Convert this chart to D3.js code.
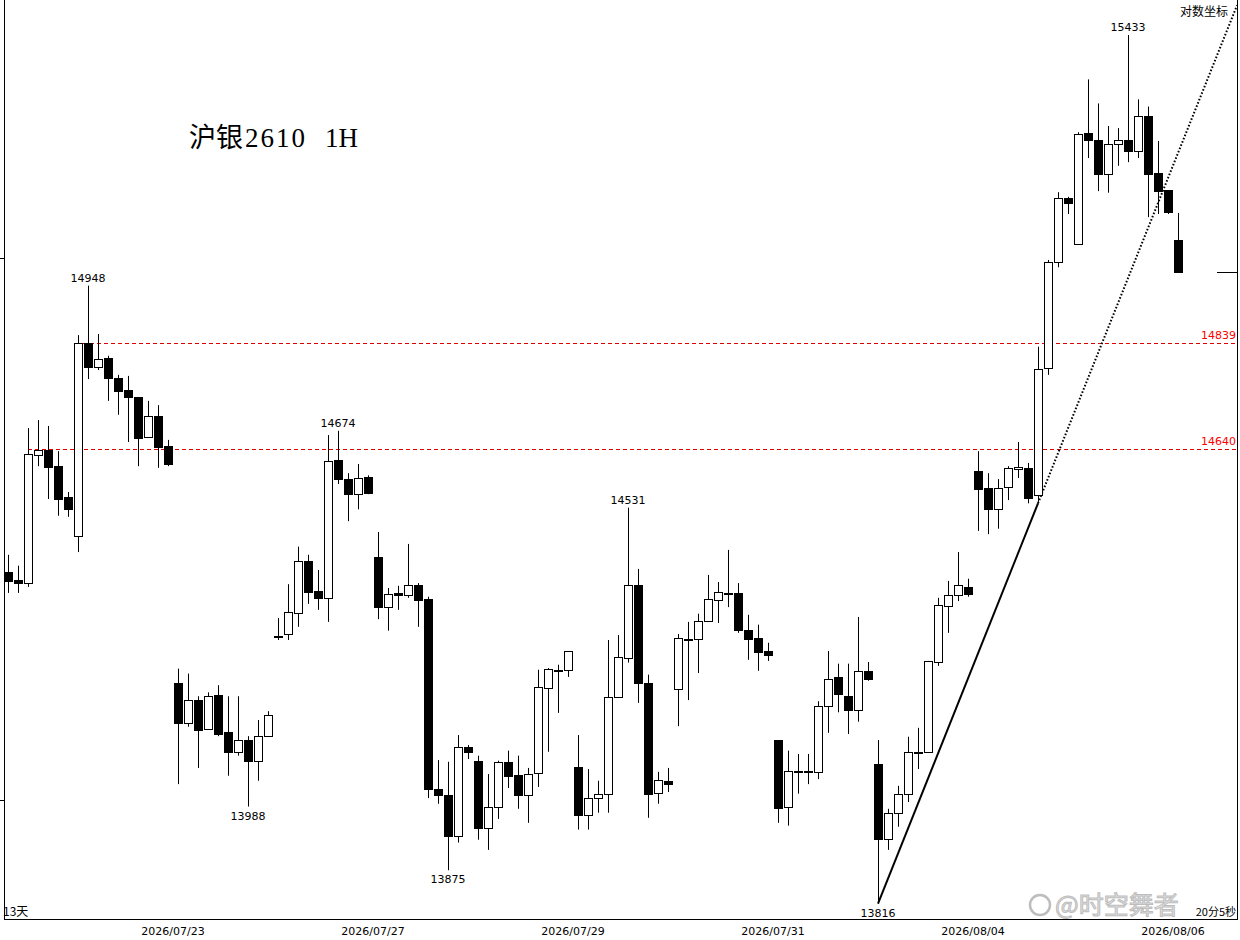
<!DOCTYPE html>
<html><head><meta charset="utf-8">
<script src="https://cdn.jsdelivr.net/npm/d3@7"></script>
<style>body{margin:0;background:#fff;} svg{display:block;}</style>
</head><body>
<svg id="c" width="1240" height="940"></svg>
<script>
// ---- data (hourly bars) ----
const opens  = [14412,14398,14392,14629,14638,14608,14551,14479,14839,14794,14811,14773,14751,14737,14663,14702,14646,
14210,14138,14179,14127,14188,14122,14086,14107,14070,14114,14296,14299,14337,14433,14378,14365,14620,14584,14556,14588,
14440,14348,14374,14370,14389,14363,14019,14009,13936,14095,14070,13950,13988,14068,14045,14009,14048,14201,14234,14234,
14059,13973,14003,14011,14185,14256,14389,14210,14012,14034,14199,14290,14290,14323,14361,14374,14374,14306,14292,14268,
14107,13988,14052,14052,14050,14168,14221,14186,14161,14232,14064,13931,13977,14011,14086,14086,14248,14350,14370,14385,
14599,14567,14528,14569,14603,14605,14554,14792,14993,15116,15028,15241,15228,15162,15220,15228,15207,15274,15164,15131,15035];
const highs  = [14444,14424,14679,14694,14683,14636,14560,14854,14948,14856,14815,14779,14777,14737,14730,14722,14657,
14236,14227,14186,14193,14206,14186,14186,14114,14143,14159,14328,14390,14459,14444,14416,14666,14674,14595,14612,14591,
14486,14383,14387,14464,14392,14367,14071,14068,14116,14098,14079,14046,14070,14088,14079,14057,14234,14237,14243,14268,
14116,14055,14034,14288,14297,14531,14418,14225,14050,14057,14299,14321,14336,14407,14394,14453,14392,14334,14316,14283,
14107,14088,14082,14082,14177,14268,14245,14245,14330,14248,14107,13984,14025,14113,14129,14250,14365,14396,14449,14400,
14636,14595,14584,14608,14653,14614,14832,14997,15127,15118,15243,15346,15299,15255,15251,15433,15307,15293,15226,15131,15087];
const lows   = [14374,14374,14385,14608,14547,14516,14514,14449,14771,14788,14730,14704,14653,14608,14663,14605,14608,
14028,14131,14057,14127,14114,14043,14079,13988,14034,14114,14288,14288,14312,14354,14343,14321,14575,14506,14528,14556,
14326,14305,14343,14365,14312,14003,13993,13875,13924,14073,13929,13911,13966,14021,13984,13959,14023,14086,14156,14221,
13947,13947,13977,13977,14185,14247,14174,13968,13993,14014,14132,14179,14228,14323,14319,14348,14301,14252,14232,14250,
13959,13954,14011,14028,14037,14120,14157,14118,14140,14214,13816,13911,13952,13996,14055,14084,14241,14301,14359,14367,
14488,14482,14492,14545,14586,14539,14539,14779,14983,15085,15028,15193,15129,15126,15178,15185,15193,15079,15085,15085,14974];
const closes = [14396,14392,14631,14638,14606,14547,14528,14839,14794,14809,14773,14749,14737,14661,14702,14644,14612,
14138,14179,14125,14186,14118,14086,14107,14070,14114,14152,14294,14339,14433,14376,14365,14618,14584,14556,14586,14558,
14348,14372,14370,14389,14361,14019,14009,13936,14095,14086,13949,13988,14068,14043,14009,14046,14203,14236,14234,14268,
13973,14003,14011,14185,14257,14389,14210,14011,14036,14028,14292,14290,14323,14363,14376,14374,14306,14290,14266,14261,
13986,14052,14052,14052,14168,14217,14190,14161,14232,14217,13931,13977,14011,14086,14086,14250,14352,14370,14389,14372,
14566,14528,14567,14605,14606,14549,14790,14993,15116,15106,15239,15228,15162,15220,15228,15207,15274,15162,15129,15089,14974];

const dateLabels = ["2026/07/23","2026/07/27","2026/07/29","2026/07/31","2026/08/04","2026/08/06"];
const dateIndex  = [17,37,57,77,97,117];           // first bar of each labelled day
const markIndex  = [8,33,62,112,24,44,87];          // annotated extremes
const markSide   = ["high","high","high","high","low","low","low"];
const levelValues = [14839,14640];
const levelStart  = [7.5,2];
const trendAnchors = [87,103];                      // trend line through these lows
const axisTicks = [14000,15000];

(function(){
// ---- layout ----
const L = 4, R = 1237, T = 0, B = 919;
const svg = d3.select("#c");
const n = opens.length;
const x = d3.scaleLinear().domain([0, n-1]).range([8, 8 + 10*(n-1)]);
const y = d3.scaleLog().domain([13789, 15502]).range([B, T]);
const bodyW = 8;
const numFont = "'DejaVu Sans', Verdana, sans-serif";
const px = v => Math.round(v) + 0.5;

// frame
svg.append("line").attr("x1", L+0.5).attr("x2", L+0.5).attr("y1", 0).attr("y2", B).attr("stroke","#000");
svg.append("line").attr("x1", R+0.5).attr("x2", R+0.5).attr("y1", 0).attr("y2", B).attr("stroke","#000");
svg.append("line").attr("x1", L).attr("x2", R+1).attr("y1", B+0.5).attr("y2", B+0.5).attr("stroke","#000");
axisTicks.forEach(t => {
  svg.append("line").attr("x1", 0).attr("x2", L).attr("y1", px(y(t))).attr("y2", px(y(t))).attr("stroke","#000");
});

// level lines
levelValues.forEach((v,k) => {
  svg.append("line").attr("x1", x(levelStart[k])).attr("x2", R)
    .attr("y1", px(y(v))).attr("y2", px(y(v)))
    .attr("stroke","#e00000").attr("stroke-width",1).attr("stroke-dasharray","4,3");
  svg.append("text").attr("x", R-1).attr("y", y(v)-4).attr("text-anchor","end")
    .attr("font-family", numFont).attr("font-size", 11).attr("fill","#ff0000").text(v);
});

// trend line
const ax = x(trendAnchors[0]), ay = y(lows[trendAnchors[0]]);
const bx = x(trendAnchors[1]), by = y(lows[trendAnchors[1]]);
const slope = (by-ay)/(bx-ax);
svg.append("line").attr("x1", ax).attr("y1", ay).attr("x2", bx).attr("y2", by)
  .attr("stroke","#000").attr("stroke-width",2);
svg.append("line").attr("x1", bx).attr("y1", by).attr("x2", R).attr("y2", by + slope*(R-bx))
  .attr("stroke","#000").attr("stroke-width",2).attr("stroke-dasharray","1.5,2");

// candles
const idx = d3.range(n);
svg.append("g").selectAll("line").data(idx).join("line")
  .attr("x1", i => Math.round(x(i))+0.5).attr("x2", i => Math.round(x(i))+0.5)
  .attr("y1", i => y(highs[i])).attr("y2", i => y(lows[i]))
  .attr("stroke","#000").attr("stroke-width",1);
svg.append("g").selectAll("rect").data(idx).join("rect")
  .attr("x", i => Math.round(x(i)) - bodyW/2 + 0.5)
  .attr("y", i => Math.round(y(Math.max(opens[i], closes[i]))) + 0.5)
  .attr("width", bodyW)
  .attr("height", i => Math.max(1, Math.round(y(Math.min(opens[i], closes[i]))) - Math.round(y(Math.max(opens[i], closes[i])))))
  .attr("fill", i => closes[i] > opens[i] ? "#fff" : "#000")
  .attr("stroke","#000").attr("stroke-width",1);

// last price marker
svg.append("line").attr("x1", R-20).attr("x2", R)
  .attr("y1", px(y(closes[n-1]))).attr("y2", px(y(closes[n-1]))).attr("stroke","#000");

// extreme annotations
markIndex.forEach((i,k) => {
  const hi = markSide[k] === "high";
  svg.append("text").attr("x", x(i)).attr("y", hi ? y(highs[i]) - 4 : y(lows[i]) + 13)
    .attr("text-anchor","middle").attr("font-family", numFont).attr("font-size", 11)
    .attr("fill","#000").text(hi ? highs[i] : lows[i]);
});

// date labels
dateLabels.forEach((d,k) => {
  svg.append("text").attr("x", x(dateIndex[k]-0.5)).attr("y", 935).attr("text-anchor","middle")
    .attr("font-family", numFont).attr("font-size", 11).attr("fill","#000").text(d);
});

// title
const tt = svg.append("text").attr("x", 189).attr("y", 147).attr("fill","#000");
tt.append("tspan").attr("font-family","'Noto Sans CJK SC',sans-serif").attr("font-size", 27).text("沪银");
tt.append("tspan").attr("dx", 2).attr("font-family","'Liberation Serif',serif").attr("font-size", 27)
  .attr("letter-spacing", 2).text("2610");
tt.append("tspan").attr("dx", 18).attr("font-family","'Liberation Serif',serif").attr("font-size", 27).text("1H");

// misc text
svg.append("text").attr("x", R-9).attr("y", 16).attr("text-anchor","end")
  .attr("font-family","'Noto Sans CJK SC',sans-serif").attr("font-size", 12).attr("fill","#000").text("对数坐标");
svg.append("text").attr("x", 3).attr("y", 916)
  .attr("font-family","'Noto Sans CJK SC',sans-serif").attr("font-size", 12).attr("fill","#000").text("13天");
svg.append("text").attr("x", R-1).attr("y", 916).attr("text-anchor","end")
  .attr("font-family","'Noto Sans CJK SC',sans-serif").attr("font-size", 11).attr("fill","#000").text("20分5秒");
// watermark
const wm = svg.append("g").attr("opacity", 0.55);
wm.append("circle").attr("cx", 1040).attr("cy", 905).attr("r", 10).attr("fill","none").attr("stroke","#888").attr("stroke-width",2.5);
wm.append("text").attr("x", 1055).attr("y", 914)
  .attr("font-family","'Noto Sans CJK SC',sans-serif").attr("font-size", 25).attr("fill","#ccc")
  .attr("stroke","#888").attr("stroke-width",1).text("@时空舞者");
})();
</script>
</body></html>
